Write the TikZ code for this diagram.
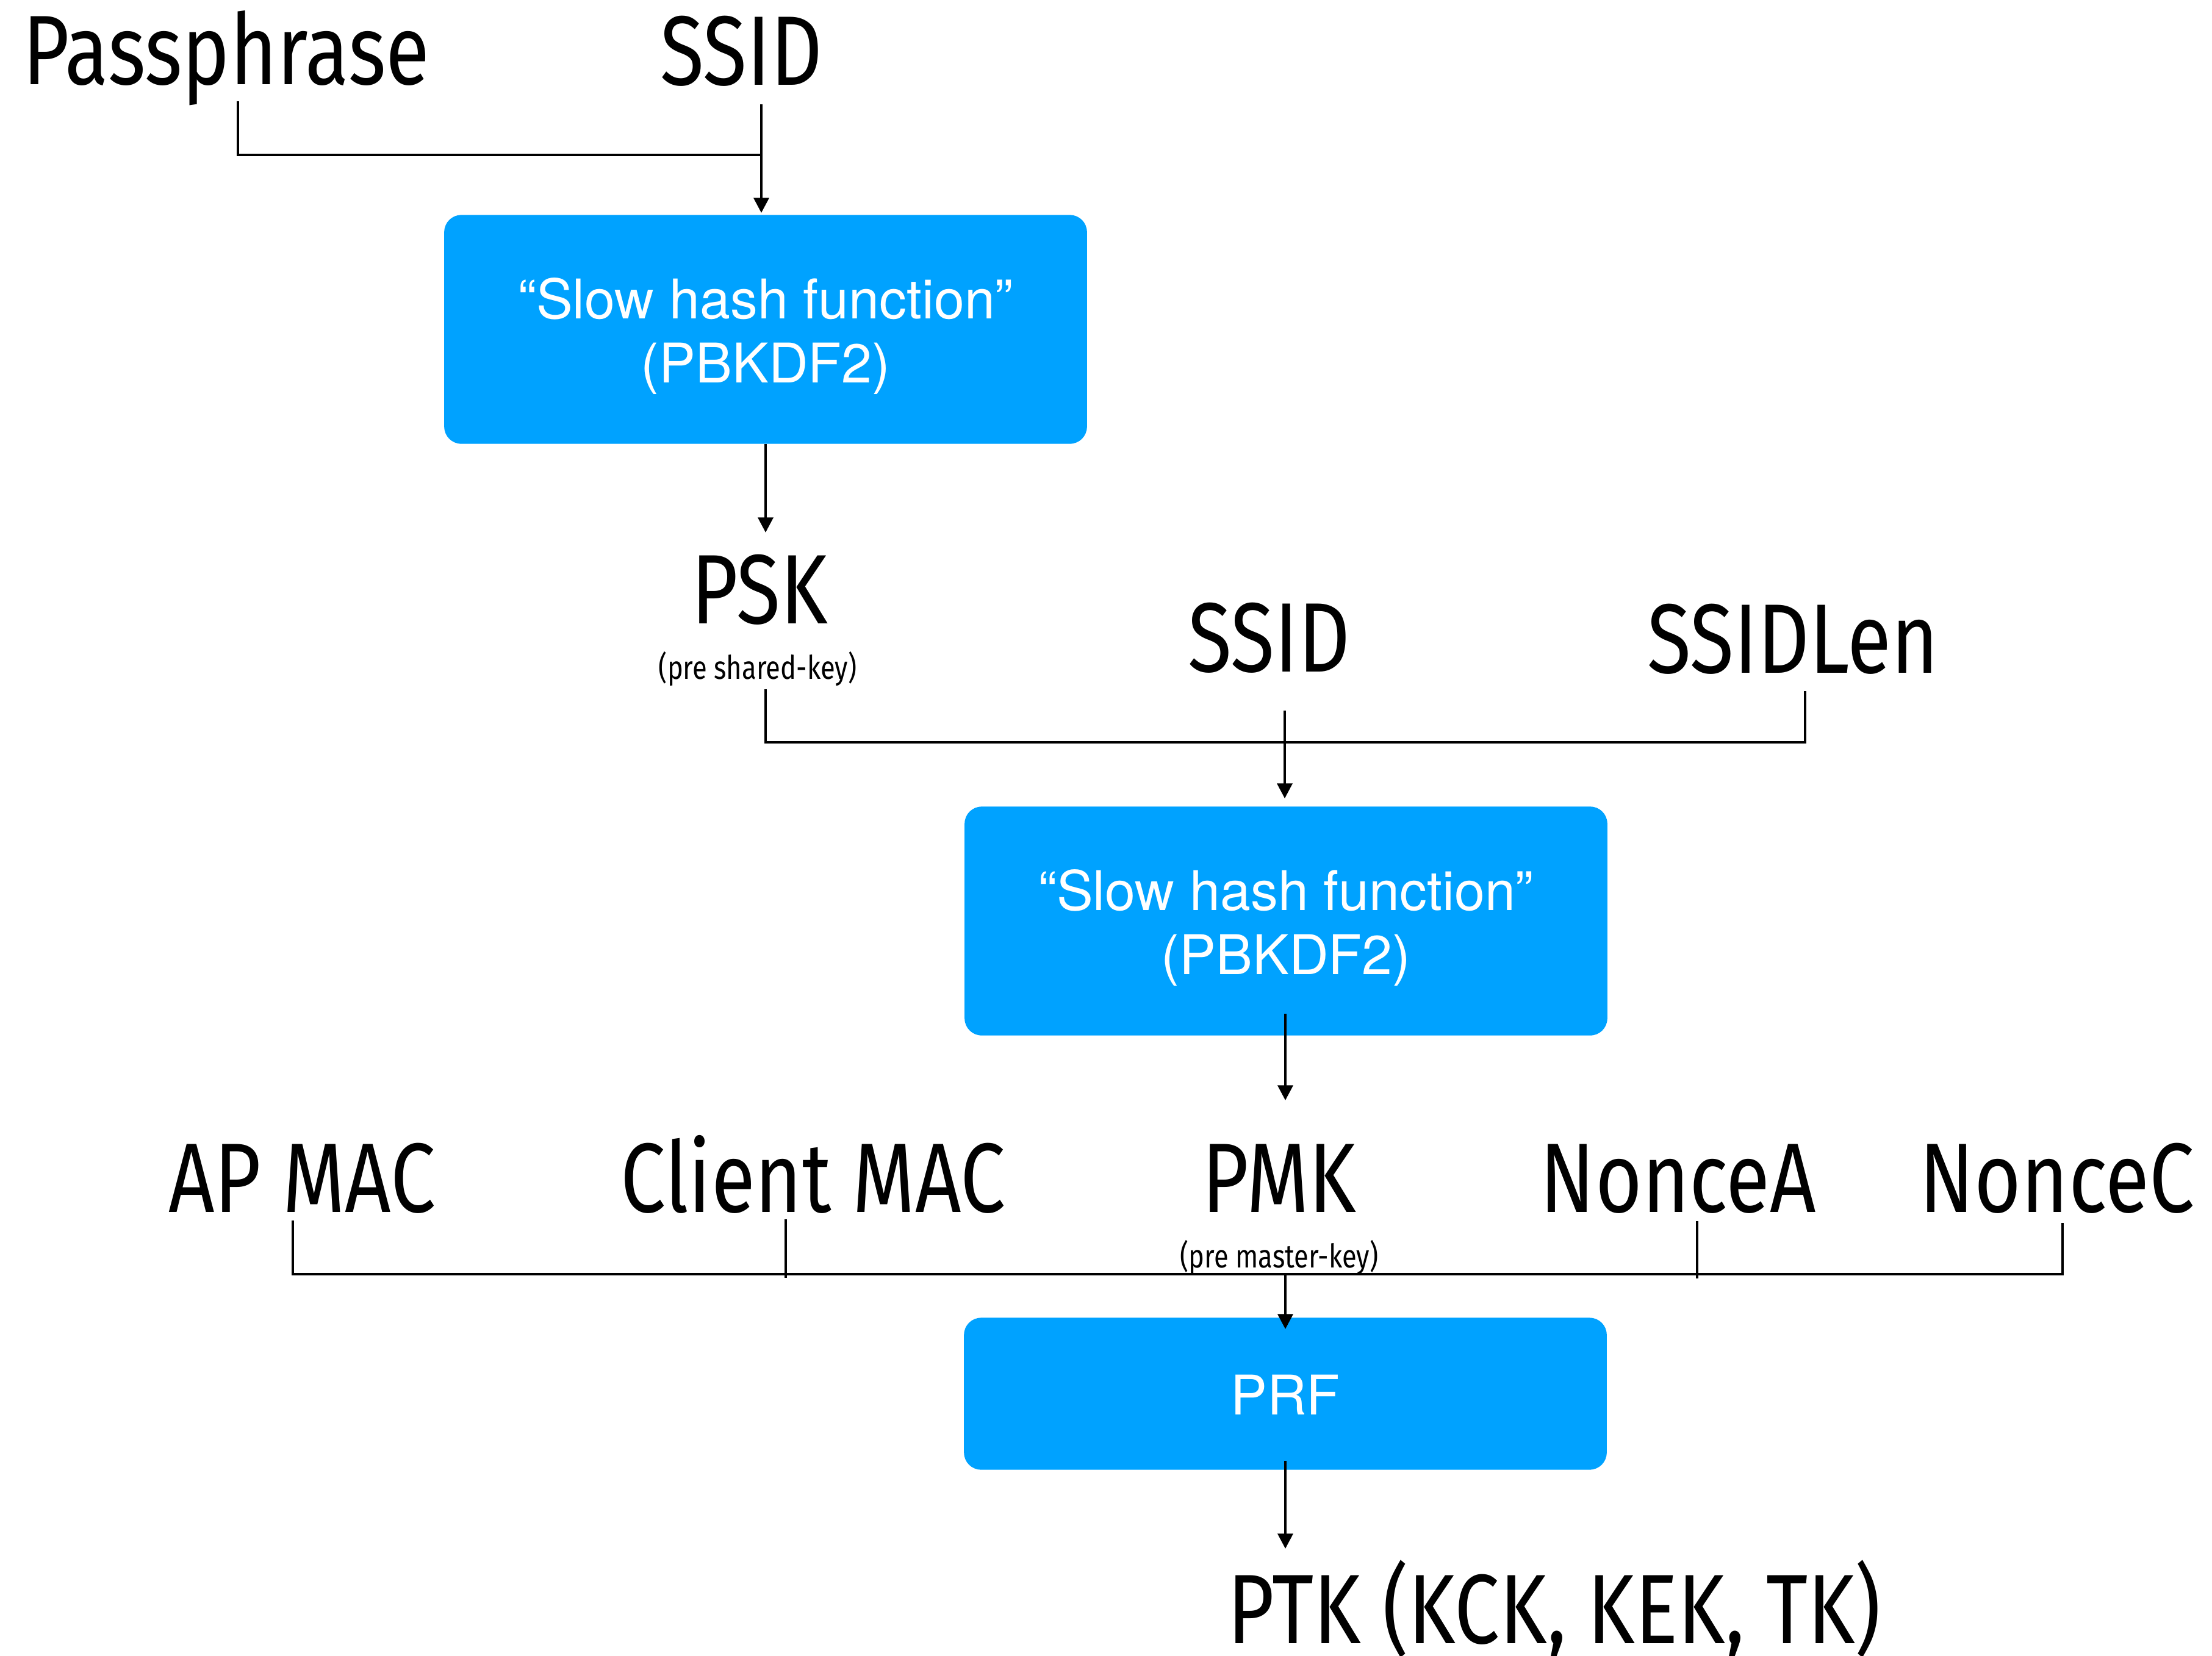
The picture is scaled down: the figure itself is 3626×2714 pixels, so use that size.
\documentclass[tikz,border=0pt]{standalone}
\usepackage{fontspec}
\usetikzlibrary{arrows.meta}
\newfontfamily\lblfont[FakeStretch=0.815]{Fira Sans}
\newfontfamily\boxfont{TeX Gyre Heros}
\definecolor{boxblue}{RGB}{0,162,255}
\tikzset{
  lbl/.style={font=\lblfont\fontsize{46}{50}\selectfont, inner sep=0pt, anchor=base},
  sublbl/.style={font=\lblfont\fontsize{15.2}{18}\selectfont, inner sep=0pt, anchor=base},
  hashbox/.style={fill=boxblue, rounded corners=0.28cm, minimum width=10.53cm,
    inner sep=0pt},
  hashtext/.style={inner sep=0pt, text=white, align=center,
    font=\boxfont\fontsize{25.5}{29.6}\selectfont},
  wire/.style={line width=1.3pt},
  arr/.style={wire, -{Triangle[length=7pt,width=7pt]}},
}
\begin{document}
\begin{tikzpicture}[x=0.01cm, y=-0.01cm]
\useasboundingbox (0,0) rectangle (3626,2714);

% --- stage 1: passphrase + SSID -> PSK
\node[lbl] (pass)  at (371,138)  {Passphrase};
\node[lbl] (ssidA) at (1215,139) {SSID};
\node[hashbox, minimum height=3.75cm] (hash1) at (1255,540) {};
\node[hashtext] (hash1t) at (1255,551) {“Slow hash function”\\(PBKDF2)};
\node[lbl] (psk)  at (1245,1022) {PSK};
\node[sublbl] (pskn) at (1242,1113) {(pre shared-key)};

\coordinate (passT)  at (390,166);
\coordinate (ssidAT) at (1248,171);
\coordinate (j1)     at (1248,254);
\coordinate (h1in)   at (1248,349);
\coordinate (h1out)  at (1255,728);
\coordinate (pskIn)  at (1255,873);
\draw[wire] (passT) |- (j1);
\draw[arr] (ssidAT) -- (h1in);
\draw[arr] (h1out) -- (pskIn);

% --- stage 2: PSK + SSID + SSIDLen -> PMK
\node[lbl] (ssidB)   at (2080,1101) {SSID};
\node[lbl] (ssidlen) at (2939,1103) {SSIDLen};
\node[hashbox, minimum height=3.75cm] (hash2) at (2108,1510) {};
\node[hashtext] (hash2t) at (2108,1521) {“Slow hash function”\\(PBKDF2)};

\coordinate (pskB)   at (1255,1130);
\coordinate (bus2L)  at (1255,1217);
\coordinate (bus2R)  at (2959,1217);
\coordinate (lenB)   at (2959,1133);
\coordinate (ssidBB) at (2106,1165);
\coordinate (h2in)   at (2106,1309);
\coordinate (h2out)  at (2107,1662);
\coordinate (pmkIn)  at (2107,1804);
\draw[wire] (pskB) -- (bus2L) -- (bus2R) -- (lenB);
\draw[arr] (ssidBB) -- (h2in);
\draw[arr] (h2out) -- (pmkIn);

% --- stage 3: MACs, PMK, nonces -> PTK
\node[lbl] (apmac) at (495,1987)  {AP MAC};
\node[lbl] (clmac) at (1333,1987) {Client MAC};
\node[lbl] (pmk)   at (2097,1987) {PMK};
\node[lbl] (nona)  at (2751,1987) {NonceA};
\node[lbl] (nonc)  at (3372,1987) {NonceC};
\node[sublbl] (pmkn) at (2097,2078) {(pre master-key)};
\node[hashbox, minimum height=2.49cm] (prf) at (2107,2285) {};
\node[hashtext] (prft) at (2107,2287) {PRF};
\node[lbl] (ptk) at (2548,2694) {PTK (KCK, KEK, TK)};

\coordinate (apT)   at (480,2001);
\coordinate (busL)  at (480,2089);
\coordinate (busR)  at (3381,2089);
\coordinate (ncT)   at (3381,2005);
\coordinate (cmT)   at (1288,1999);
\coordinate (cmB)   at (1288,2095);
\coordinate (naT)   at (2782,2002);
\coordinate (naB)   at (2782,2096);
\coordinate (busM)  at (2107,2089);
\coordinate (prfIn) at (2107,2179);
\coordinate (prfOut) at (2107,2395);
\coordinate (ptkIn) at (2107,2539);
\draw[wire] (apT) -- (busL) -- (busR) -- (ncT);
\draw[wire] (cmT) -- (cmB);
\draw[wire] (naT) -- (naB);
\draw[arr] (busM) -- (prfIn);
\draw[arr] (prfOut) -- (ptkIn);
\end{tikzpicture}
\end{document}
